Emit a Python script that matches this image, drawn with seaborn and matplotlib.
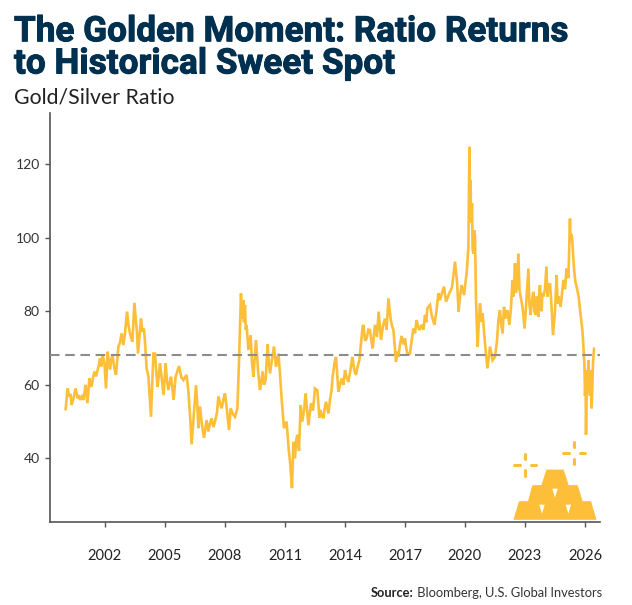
import matplotlib
matplotlib.use("Agg")
import matplotlib.pyplot as plt
import matplotlib.patheffects as pe
import seaborn as sns
import pandas as pd
from matplotlib.patches import Polygon

TITLE = "The Golden Moment: Ratio Returns\nto Historical Sweet Spot"
SUBTITLE = "Gold/Silver Ratio"
SOURCE_HEAD = "Source:"
SOURCE_BODY = " Bloomberg, U.S. Global Investors"
X_TICKS = [2002, 2005, 2008, 2011, 2014, 2017, 2020, 2023, 2026]
Y_TICKS = [40, 60, 80, 100, 120]
HISTORICAL_AVERAGE = 68.1

# Gold/silver ratio, as (decimal year, ratio) pairs by stretch of history
years_2000s = [2000.03, 2000.08, 2000.13, 2000.2, 2000.27, 2000.33, 2000.42, 2000.47, 2000.53, 2000.63, 2000.7, 2000.75,
               2000.85, 2000.92, 2001.03, 2001.12, 2001.22, 2001.28, 2001.33, 2001.4, 2001.47, 2001.55, 2001.63, 2001.7,
               2001.75, 2001.82, 2001.88, 2001.97, 2002.05, 2002.13, 2002.2, 2002.25, 2002.32, 2002.37, 2002.47, 2002.55,
               2002.67, 2002.75, 2002.83, 2002.92, 2003.0, 2003.1, 2003.18, 2003.25, 2003.37, 2003.47, 2003.55, 2003.6,
               2003.65, 2003.72, 2003.8, 2003.87, 2003.95, 2004.02, 2004.08, 2004.17, 2004.3, 2004.36, 2004.42, 2004.5,
               2004.57, 2004.63, 2004.7, 2004.75, 2004.85, 2004.93, 2005.03, 2005.1, 2005.17, 2005.23, 2005.3, 2005.37,
               2005.43, 2005.53, 2005.7, 2005.82, 2005.92, 2006.08, 2006.17, 2006.25, 2006.33, 2006.45, 2006.55, 2006.62,
               2006.67, 2006.75, 2006.85, 2006.95, 2007.08, 2007.17, 2007.25, 2007.33, 2007.42, 2007.5, 2007.6, 2007.67,
               2007.75, 2007.83, 2007.92, 2008.0, 2008.1, 2008.2, 2008.28, 2008.4, 2008.5, 2008.62, 2008.7, 2008.75]
ratio_2000s = [53.3, 56, 59, 56.8, 57.5, 54.5, 56.3, 57.5, 59, 56.3, 57.2, 55.9,
               56.8, 55.9, 60, 55, 61.8, 60, 59.5, 62, 63.6, 62.3, 64, 65.5,
               67.2, 65, 68.1, 66, 59, 69, 66, 64.2, 67, 68.1, 64.5, 62.7,
               70.4, 71.5, 74, 70.8, 74, 79.9, 76, 74, 71.7, 82.3, 77, 74,
               68.5, 73, 78, 74.4, 75.3, 70, 64.5, 62.2, 51.3, 60, 68.5, 68.5,
               63, 59.5, 63, 65.8, 61, 57.2, 65.8, 61, 58.6, 60.5, 62.2, 59,
               55.9, 62.2, 65.1, 62, 61.3, 62.7, 58.1, 52, 43.8, 52.7, 59.9, 54,
               48.2, 54.1, 49, 45.6, 50.4, 47.3, 49.5, 50.9, 48.5, 50, 52.5, 56.8,
               55, 53.6, 56, 57.7, 53, 47.7, 53.6, 52, 51.3, 53.6, 66.3, 76]

years_2010s = [2008.8, 2008.83, 2008.86, 2008.89, 2008.92, 2008.95, 2009.0, 2009.04, 2009.08, 2009.17, 2009.28, 2009.35, 2009.42,
               2009.55, 2009.65, 2009.75, 2009.82, 2009.88, 2009.95, 2010.03, 2010.13, 2010.19, 2010.25, 2010.35, 2010.45,
               2010.55, 2010.67, 2010.75, 2010.83, 2010.95, 2011.08, 2011.18, 2011.27, 2011.35, 2011.42, 2011.5, 2011.56,
               2011.62, 2011.7, 2011.78, 2011.86, 2011.95, 2012.03, 2012.17, 2012.3, 2012.4, 2012.5, 2012.62, 2012.72,
               2012.75, 2012.83, 2012.92, 2012.98, 2013.05, 2013.17, 2013.25, 2013.33, 2013.38, 2013.48, 2013.55, 2013.67,
               2013.75, 2013.83, 2013.92, 2014.0, 2014.08, 2014.17, 2014.27, 2014.37, 2014.46, 2014.55, 2014.63, 2014.72,
               2014.8, 2014.88, 2014.92, 2015.0, 2015.08, 2015.17, 2015.25, 2015.32, 2015.38, 2015.5, 2015.6, 2015.68,
               2015.8, 2015.9, 2016.0, 2016.08, 2016.17, 2016.28, 2016.35, 2016.42, 2016.55, 2016.62, 2016.67, 2016.75,
               2016.83, 2016.92, 2017.0, 2017.06, 2017.12, 2017.25, 2017.33, 2017.42, 2017.5, 2017.58, 2017.65, 2017.72,
               2017.83, 2017.92, 2018.0, 2018.06, 2018.12, 2018.25, 2018.33, 2018.47, 2018.57, 2018.67, 2018.75, 2018.85,
               2018.95, 2019.05, 2019.15, 2019.25, 2019.35, 2019.5, 2019.6, 2019.68, 2019.75, 2019.83, 2019.95, 2020.08, 2020.17]
ratio_2010s = [84.9, 80, 82, 78, 83, 77, 81.7, 75, 76.2, 69.5, 73.5, 66, 62.2,
               72.2, 64, 58.6, 61, 63.6, 60, 61.3, 71, 66, 63.1, 67, 70.4,
               64.9, 68.5, 63, 56.3, 48.2, 50, 42.7, 38, 31.9, 44.5, 40, 45,
               46.4, 42, 54.5, 50, 53, 57.7, 49, 55, 53, 59, 58.5, 51,
               53.2, 52, 50.9, 53.5, 55.4, 52.2, 56, 58.6, 62.2, 66, 67.6, 58.1,
               60, 61.7, 60, 64, 62, 60.8, 64, 67.6, 64, 62.7, 65, 66.7,
               71.3, 75.8, 76.3, 72, 72.6, 75, 74.9, 72, 69.9, 76.3, 73, 79.9,
               72.2, 76, 78, 75, 83.5, 78, 76, 74.9, 66.3, 69, 67.6, 71,
               73.3, 71, 72.6, 70, 68.5, 68.5, 72, 75.3, 74, 77.6, 76, 74.9,
               76.3, 75, 79, 77, 80.8, 81.7, 79, 76.3, 80, 84.9, 83, 85,
               86.7, 82.6, 84, 85.3, 86.5, 93.5, 88, 79.9, 84, 87.1, 84.4, 90.3, 97.5]

years_2020s = [2020.22, 2020.25, 2020.28, 2020.3, 2020.32, 2020.35, 2020.38, 2020.42, 2020.46, 2020.5, 2020.55, 2020.63, 2020.7,
               2020.75, 2020.83, 2020.88, 2021.0, 2021.12, 2021.18, 2021.25, 2021.38, 2021.5, 2021.6, 2021.67, 2021.75,
               2021.82, 2021.88, 2021.95, 2022.03, 2022.12, 2022.22, 2022.3, 2022.37, 2022.41, 2022.44, 2022.5, 2022.54, 2022.58,
               2022.67, 2022.72, 2022.78, 2022.88, 2022.98, 2023.08, 2023.17, 2023.22, 2023.28, 2023.35, 2023.42, 2023.47, 2023.53,
               2023.57, 2023.6, 2023.67, 2023.71, 2023.75, 2023.79, 2023.83, 2023.87, 2023.92, 2024.0, 2024.07, 2024.12, 2024.16,
               2024.25, 2024.33, 2024.4, 2024.5, 2024.58, 2024.63, 2024.68, 2024.78, 2024.85, 2024.92, 2025.0, 2025.08, 2025.17,
               2025.25, 2025.27, 2025.3, 2025.35, 2025.45, 2025.52, 2025.58, 2025.68, 2025.78, 2025.87, 2025.97, 2026.0, 2026.03,
               2026.05, 2026.08, 2026.1, 2026.13, 2026.17, 2026.2, 2026.22, 2026.25, 2026.28, 2026.33, 2026.37, 2026.4, 2026.45]
ratio_2020s = [124.7, 112, 115.7, 106, 104, 109.3, 97, 95.7, 102, 100.7, 83, 70.4, 78,
               82.1, 77.1, 79.4, 71.3, 64.5, 67, 70.4, 66.7, 67.6, 72, 77.6, 80.3,
               76, 74, 81.2, 78, 80.3, 76.3, 81, 88.5, 84, 85, 93, 85, 86,
               95.7, 86, 84, 81, 75.3, 84, 91.6, 82, 79, 83, 85.3, 80, 79,
               84, 80, 78.5, 85, 87.1, 81, 80, 85, 84, 86, 92.1, 84, 86,
               87.6, 81, 73.5, 80, 89.8, 82, 84, 81.2, 85, 88.5, 86, 91.6, 89,
               105.2, 99, 101, 100.3, 91.6, 88, 86.7, 84, 79, 74.9, 65.8, 57, 60,
               46.4, 57, 64, 58, 66.7, 60, 63, 57, 64, 53.6, 60, 66, 69.9]

df = pd.DataFrame({
    "year": years_2000s + years_2010s + years_2020s,
    "ratio": ratio_2000s + ratio_2010s + ratio_2020s,
})

GOLD = "#FDBF3A"
NAVY = "#00304F"
AXIS = "#555555"
W, H = 632, 605

sns.set_theme(style="white")
plt.rcParams["font.family"] = ["Lato", "DejaVu Sans"]

fig = plt.figure(figsize=(W / 100, H / 100), dpi=100, facecolor="white")
ax = fig.add_axes([49.5 / W, (H - 522) / H, 550.5 / W, 409 / H])

sns.lineplot(data=df, x="year", y="ratio", ax=ax, color=GOLD, linewidth=1.9,
             estimator=None, sort=False, solid_joinstyle="miter")
ax.axhline(HISTORICAL_AVERAGE, color="#8C8C8C", linewidth=1.5, dashes=(4.6, 2.7), zorder=3,
           clip_on=False)

ax.set_xlim(1999.225, 2026.75)
ax.set_ylim(22.7, 133.9)
ax.set_xticks(X_TICKS)
ax.set_yticks(Y_TICKS)
ax.set_xlabel("")
ax.set_ylabel("")
ax.grid(False)
sns.despine(ax=ax)
for side in ("left", "bottom"):
    ax.spines[side].set_color(AXIS)
    ax.spines[side].set_linewidth(1.2)
ax.tick_params(axis="x", bottom=True, length=3.6, width=1.0, color=AXIS, pad=15.5,
               labelsize=10.6, labelcolor="#222222")
ax.tick_params(axis="y", left=True, length=3.6, width=1.0, color=AXIS, pad=3.5,
               labelsize=10, labelcolor="#333333")

# Overlay measured in canvas pixels for the headings and the gold-bar emblem
overlay = fig.add_axes([0, 0, 1, 1], facecolor="none")
overlay.set_xlim(0, W)
overlay.set_ylim(H, 0)
overlay.axis("off")

heading = overlay.text(14, 73.5, TITLE, color=NAVY, fontsize=25.3, fontweight="bold",
                       family=["Roboto", "DejaVu Sans"], linespacing=0.97, ha="left", va="baseline")
heading.set_path_effects([pe.withStroke(linewidth=0.7, foreground=NAVY)])
overlay.text(14, 104, SUBTITLE, color="#222222", fontsize=15.3, fontweight="normal",
             ha="left", va="baseline")
body = overlay.text(602, 597, SOURCE_BODY, color="#333333", fontsize=9.3, ha="right", va="baseline")
overlay.annotate(SOURCE_HEAD, xy=(0, 0), xycoords=body, color="#222222", fontsize=9.3, fontweight="bold",
                 ha="right", va="bottom")


def px(zx, zy):
    return 480 + zx / 3, 400 + zy / 3


stack = [(102, 358), (118, 305), (145, 305), (158, 257), (185, 257), (200, 210), (250, 210),
         (265, 257), (292, 257), (307, 305), (332, 305), (348, 358)]
overlay.add_patch(Polygon([px(*p) for p in stack], closed=True, facecolor=GOLD, edgecolor=GOLD,
                          linewidth=0.6, joinstyle="round"))
for cx, cy in [(186, 314), (225, 266), (265, 314)]:
    overlay.add_patch(Polygon([px(cx - 8, cy), px(cx + 8, cy), px(cx, cy + 27)], closed=True,
                              facecolor="white", edgecolor="none"))
for cx, cy in [(136, 194), (283, 159)]:
    for a, b in [((cx - 33, cy), (cx - 17, cy)), ((cx + 17, cy), (cx + 33, cy)),
                 ((cx, cy - 33), (cx, cy - 17)), ((cx, cy + 17), (cx, cy + 33))]:
        xa, ya = px(*a)
        xb, yb = px(*b)
        overlay.plot([xa, xb], [ya, yb], color=GOLD, linewidth=2.2, solid_capstyle="round")

fig.savefig("out.png", dpi=100, facecolor="white")
